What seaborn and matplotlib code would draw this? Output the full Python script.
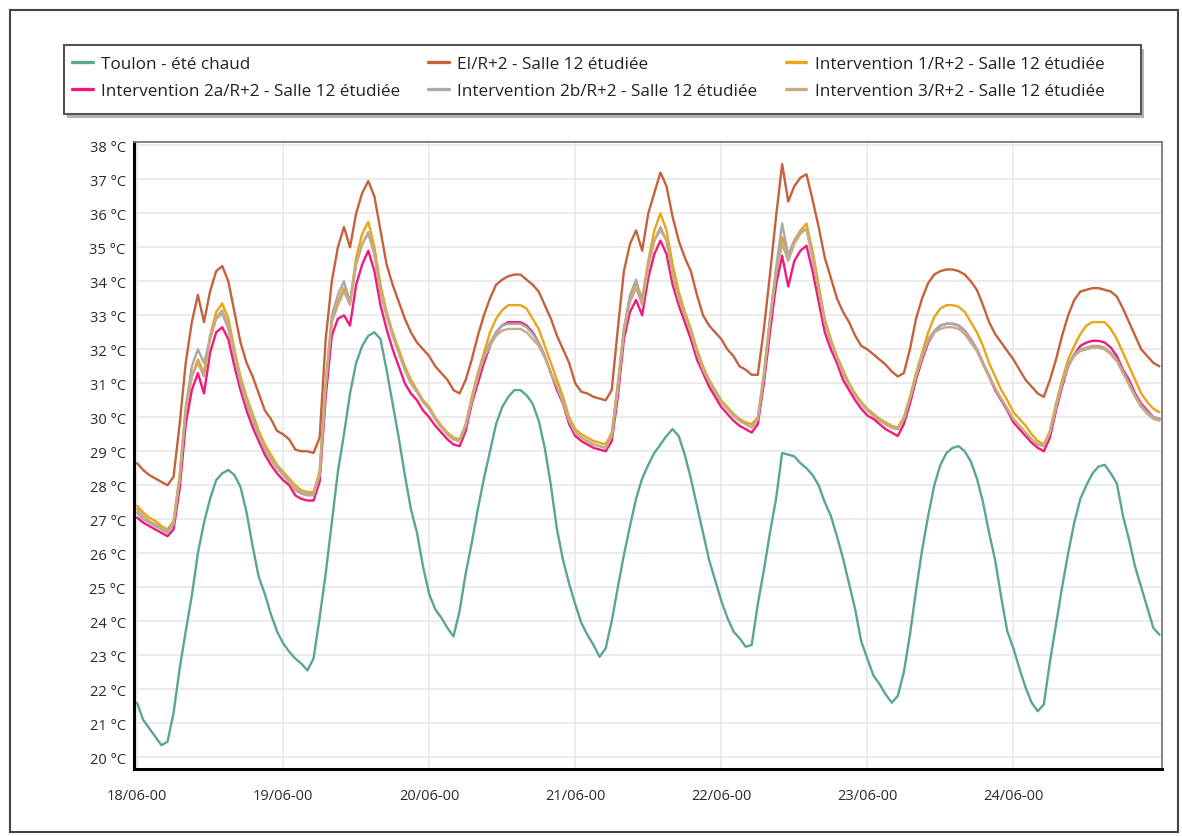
import pandas as pd
import matplotlib
matplotlib.use('Agg')
import matplotlib.pyplot as plt
import matplotlib.dates as mdates
from matplotlib.ticker import FuncFormatter, MultipleLocator, FixedLocator
from matplotlib.patches import Rectangle
import seaborn as sns

# hourly values, 18/06 00h -> 25/06 00h (one row per day)
start = '2000-06-18 00:00'
day_ticks = ['2000-06-18', '2000-06-19', '2000-06-20', '2000-06-21', '2000-06-22', '2000-06-23', '2000-06-24']

toulon = [21.6, 21.1, 20.85, 20.6, 20.35, 20.45, 21.3, 22.6, 23.7, 24.75, 26.0, 26.9, 27.6, 28.15, 28.35, 28.45, 28.3, 27.95, 27.2, 26.2, 25.3, 24.8, 24.2, 23.7,
          23.35, 23.1, 22.9, 22.75, 22.55, 22.9, 24.1, 25.4, 26.9, 28.4, 29.5, 30.7, 31.6, 32.1, 32.4, 32.5, 32.3, 31.4, 30.4, 29.4, 28.3, 27.3, 26.6, 25.6,
          24.8, 24.35, 24.1, 23.8, 23.55, 24.3, 25.4, 26.3, 27.3, 28.2, 29.0, 29.8, 30.3, 30.6, 30.8, 30.8, 30.65, 30.4, 29.9, 29.1, 28.0, 26.7, 25.8, 25.1,
          24.5, 23.95, 23.6, 23.3, 22.95, 23.2, 24.0, 25.0, 25.95, 26.8, 27.6, 28.2, 28.6, 28.95, 29.2, 29.45, 29.65, 29.45, 28.9, 28.2, 27.4, 26.6, 25.8, 25.2,
          24.6, 24.1, 23.7, 23.5, 23.25, 23.3, 24.5, 25.5, 26.6, 27.6, 28.95, 28.9, 28.85, 28.65, 28.5, 28.3, 28.0, 27.5, 27.1, 26.5, 25.85, 25.1, 24.35, 23.4,
          22.9, 22.4, 22.15, 21.85, 21.6, 21.8, 22.5, 23.6, 24.9, 26.1, 27.1, 28.0, 28.6, 28.95, 29.1, 29.15, 29.0, 28.7, 28.2, 27.5, 26.6, 25.8, 24.7, 23.7,
          23.2, 22.6, 22.05, 21.6, 21.35, 21.55, 22.8, 23.9, 25.0, 26.0, 26.9, 27.6, 28.0, 28.35, 28.55, 28.6, 28.35, 28.05, 27.1, 26.4, 25.6, 25.0, 24.4, 23.8,
          23.6]

ei = [28.65, 28.45, 28.3, 28.2, 28.1, 28.0, 28.25, 29.8, 31.6, 32.8, 33.6, 32.8, 33.7, 34.3, 34.45, 34.0, 33.1, 32.2, 31.6, 31.2, 30.7, 30.2, 29.95, 29.6,
      29.5, 29.35, 29.05, 29.0, 29.0, 28.95, 29.4, 32.3, 34.0, 35.0, 35.6, 35.0, 36.0, 36.6, 36.95, 36.5, 35.5, 34.5, 33.9, 33.4, 32.9, 32.5, 32.2, 32.0,
      31.8, 31.5, 31.3, 31.1, 30.8, 30.7, 31.1, 31.7, 32.4, 33.0, 33.5, 33.9, 34.05, 34.15, 34.2, 34.2, 34.05, 33.9, 33.7, 33.3, 32.9, 32.4, 32.0, 31.6,
      31.0, 30.75, 30.7, 30.6, 30.55, 30.5, 30.8, 32.6, 34.3, 35.1, 35.5, 34.9, 36.0, 36.6, 37.2, 36.8, 35.9, 35.2, 34.7, 34.3, 33.6, 33.0, 32.7, 32.5,
      32.3, 32.0, 31.8, 31.5, 31.4, 31.25, 31.25, 32.6, 34.2, 35.9, 37.45, 36.35, 36.8, 37.05, 37.15, 36.4, 35.6, 34.7, 34.1, 33.5, 33.1, 32.8, 32.4, 32.1,
      32.0, 31.85, 31.7, 31.55, 31.35, 31.2, 31.3, 32.0, 32.9, 33.5, 33.95, 34.2, 34.3, 34.35, 34.35, 34.3, 34.2, 34.0, 33.75, 33.3, 32.8, 32.45, 32.2, 31.95,
      31.7, 31.4, 31.1, 30.9, 30.7, 30.6, 31.1, 31.7, 32.4, 33.0, 33.45, 33.7, 33.75, 33.8, 33.8, 33.75, 33.7, 33.55, 33.2, 32.8, 32.4, 32.0, 31.8, 31.6,
      31.5]

interv_1 = [27.4, 27.2, 27.05, 26.95, 26.8, 26.7, 26.95, 28.3, 30.2, 31.2, 31.7, 31.3, 32.4, 33.1, 33.35, 32.9, 32.0, 31.2, 30.6, 30.1, 29.6, 29.2, 28.9, 28.6,
            28.4, 28.2, 28.0, 27.85, 27.8, 27.8, 28.4, 31.0, 32.8, 33.4, 33.8, 33.4, 34.7, 35.4, 35.75, 35.0, 33.9, 33.1, 32.5, 32.0, 31.5, 31.1, 30.8, 30.5,
            30.3, 30.0, 29.75, 29.55, 29.4, 29.35, 29.8, 30.6, 31.3, 31.9, 32.5, 32.9, 33.15, 33.3, 33.3, 33.3, 33.2, 32.9, 32.6, 32.1, 31.6, 31.1, 30.6, 30.0,
            29.65, 29.5, 29.4, 29.3, 29.25, 29.2, 29.55, 31.0, 32.6, 33.5, 33.95, 33.5, 34.6, 35.5, 36.0, 35.5, 34.5, 33.7, 33.1, 32.6, 32.0, 31.5, 31.1, 30.8,
            30.5, 30.3, 30.1, 29.95, 29.85, 29.8, 30.0, 31.3, 32.9, 34.3, 35.3, 34.8, 35.2, 35.5, 35.7, 34.9, 33.9, 32.9, 32.3, 31.8, 31.4, 31.0, 30.7, 30.45,
            30.25, 30.1, 29.95, 29.85, 29.75, 29.7, 30.0, 30.6, 31.3, 31.9, 32.5, 32.95, 33.2, 33.3, 33.3, 33.25, 33.1, 32.8, 32.5, 32.1, 31.6, 31.2, 30.8, 30.5,
            30.15, 29.95, 29.75, 29.5, 29.3, 29.2, 29.6, 30.4, 31.1, 31.7, 32.1, 32.45, 32.7, 32.8, 32.8, 32.8, 32.6, 32.3, 31.9, 31.5, 31.1, 30.7, 30.45, 30.25,
            30.15]

interv_2a = [27.05, 26.9, 26.8, 26.7, 26.6, 26.5, 26.7, 27.9, 29.8, 30.8, 31.3, 30.7, 31.9, 32.5, 32.65, 32.3, 31.5, 30.8, 30.2, 29.7, 29.3, 28.9, 28.6, 28.35,
             28.15, 28.0, 27.7, 27.6, 27.55, 27.55, 28.1, 30.6, 32.4, 32.9, 33.0, 32.7, 33.9, 34.5, 34.9, 34.3, 33.3, 32.6, 32.0, 31.5, 31.0, 30.7, 30.5, 30.2,
             30.0, 29.75, 29.55, 29.35, 29.2, 29.15, 29.6, 30.4, 31.0, 31.6, 32.1, 32.5, 32.7, 32.8, 32.8, 32.8, 32.7, 32.5, 32.2, 31.8, 31.3, 30.8, 30.4, 29.8,
             29.45, 29.3, 29.2, 29.1, 29.05, 29.0, 29.3, 30.6, 32.3, 33.1, 33.45, 33.0, 34.1, 34.8, 35.2, 34.8, 33.9, 33.3, 32.8, 32.3, 31.7, 31.3, 30.9, 30.6,
             30.3, 30.1, 29.9, 29.75, 29.65, 29.55, 29.8, 31.0, 32.5, 33.9, 34.75, 33.85, 34.6, 34.9, 35.05, 34.3, 33.4, 32.5, 32.0, 31.6, 31.1, 30.8, 30.5, 30.25,
             30.05, 29.95, 29.8, 29.65, 29.55, 29.45, 29.8, 30.4, 31.1, 31.7, 32.2, 32.5, 32.7, 32.75, 32.75, 32.7, 32.55, 32.3, 32.0, 31.6, 31.2, 30.8, 30.5, 30.2,
             29.85, 29.65, 29.45, 29.25, 29.1, 29.0, 29.4, 30.2, 30.9, 31.5, 31.85, 32.1, 32.2, 32.25, 32.25, 32.2, 32.05, 31.8, 31.4, 31.1, 30.7, 30.4, 30.2, 30.0,
             29.95]

interv_2b = [27.2, 27.0, 26.9, 26.8, 26.7, 26.6, 26.85, 28.2, 30.3, 31.5, 32.0, 31.6, 32.3, 32.9, 33.05, 32.6, 31.8, 31.0, 30.4, 29.9, 29.45, 29.05, 28.75, 28.5,
             28.3, 28.1, 27.85, 27.75, 27.7, 27.7, 28.3, 31.0, 33.0, 33.6, 34.0, 33.4, 34.5, 35.1, 35.45, 34.8, 33.7, 33.0, 32.4, 31.9, 31.4, 31.0, 30.75, 30.45,
             30.25, 29.95, 29.7, 29.5, 29.35, 29.3, 29.75, 30.5, 31.2, 31.8, 32.2, 32.5, 32.7, 32.75, 32.75, 32.75, 32.65, 32.45, 32.2, 31.8, 31.3, 30.9, 30.45, 29.9,
             29.55, 29.4, 29.3, 29.2, 29.15, 29.1, 29.45, 30.9, 32.6, 33.6, 34.05, 33.4, 34.5, 35.2, 35.6, 35.2, 34.2, 33.5, 33.0, 32.5, 31.9, 31.4, 31.05, 30.75,
             30.45, 30.25, 30.05, 29.9, 29.8, 29.7, 29.95, 31.2, 32.9, 34.4, 35.7, 34.75, 35.2, 35.45, 35.55, 34.7, 33.75, 32.8, 32.2, 31.75, 31.3, 30.95, 30.65, 30.4,
             30.2, 30.05, 29.9, 29.8, 29.7, 29.65, 29.95, 30.55, 31.2, 31.8, 32.3, 32.55, 32.7, 32.75, 32.75, 32.7, 32.55, 32.3, 32.0, 31.6, 31.25, 30.85, 30.55, 30.25,
             29.95, 29.75, 29.55, 29.35, 29.2, 29.15, 29.55, 30.3, 31.0, 31.55, 31.85, 32.0, 32.05, 32.1, 32.1, 32.05, 31.9, 31.7, 31.35, 31.0, 30.65, 30.35, 30.15, 30.0,
             29.95]

interv_3 = [27.3, 27.1, 26.95, 26.85, 26.75, 26.65, 26.9, 28.2, 30.2, 31.2, 31.6, 31.2, 32.3, 32.95, 33.15, 32.7, 31.9, 31.1, 30.5, 30.0, 29.5, 29.1, 28.8, 28.55,
            28.35, 28.15, 27.9, 27.8, 27.75, 27.75, 28.3, 30.9, 32.8, 33.3, 33.7, 33.3, 34.5, 35.1, 35.4, 34.8, 33.7, 33.0, 32.4, 31.9, 31.4, 31.0, 30.75, 30.45,
            30.25, 29.95, 29.7, 29.5, 29.35, 29.3, 29.75, 30.5, 31.2, 31.75, 32.1, 32.4, 32.55, 32.6, 32.6, 32.6, 32.5, 32.3, 32.1, 31.75, 31.3, 30.9, 30.45, 29.9,
            29.55, 29.4, 29.3, 29.2, 29.15, 29.1, 29.45, 30.8, 32.5, 33.4, 33.8, 33.3, 34.4, 35.2, 35.5, 35.2, 34.2, 33.5, 33.0, 32.5, 31.9, 31.4, 31.05, 30.75,
            30.45, 30.25, 30.05, 29.9, 29.8, 29.7, 29.95, 31.2, 32.8, 34.2, 35.1, 34.6, 35.1, 35.4, 35.55, 34.7, 33.75, 32.8, 32.2, 31.75, 31.3, 30.95, 30.65, 30.4,
            30.2, 30.05, 29.9, 29.8, 29.7, 29.65, 29.95, 30.55, 31.2, 31.8, 32.25, 32.5, 32.6, 32.65, 32.65, 32.6, 32.45, 32.2, 31.95, 31.55, 31.2, 30.85, 30.55, 30.25,
            29.95, 29.75, 29.55, 29.35, 29.2, 29.15, 29.55, 30.3, 31.0, 31.5, 31.8, 31.95, 32.0, 32.05, 32.05, 32.0, 31.85, 31.65, 31.3, 30.95, 30.6, 30.3, 30.1, 29.95,
            29.9]

names = ['Toulon - été chaud',
         'EI/R+2 - Salle 12 étudiée',
         'Intervention 1/R+2 - Salle 12 étudiée',
         'Intervention 2a/R+2 - Salle 12 étudiée',
         'Intervention 2b/R+2 - Salle 12 étudiée',
         'Intervention 3/R+2 - Salle 12 étudiée']
colors = ['#5aa596', '#c4623c', '#e9a515', '#f2197a', '#a9a9a9', '#c9aa86']

dates = pd.date_range(start, periods=len(toulon), freq='h')
wide = pd.DataFrame({'date': dates})
for name, values in zip(names, [toulon, ei, interv_1, interv_2a, interv_2b, interv_3]):
    wide[name] = values
df = wide.melt(id_vars='date', var_name='serie', value_name='temp')

sns.set_style('white')
plt.rcParams['font.family'] = ['Open Sans', 'DejaVu Sans']

W, H = 1182, 837
fig = plt.figure(figsize=(W / 100, H / 100), dpi=100)
ax = fig.add_axes([134 / W, 1 - 770 / H, (1162 - 134) / W, (770 - 143) / H])

sns.lineplot(data=df, x='date', y='temp', hue='serie', hue_order=names,
             palette=dict(zip(names, colors)), linewidth=1.7, ax=ax)

# legend box drawn by hand (frame + soft shadow), entries placed inside it
fig.add_artist(Rectangle((67 / W, 1 - 119 / H), (1141 - 64) / W, (115 - 46) / H,
                         transform=fig.transFigure, facecolor='#b5b5b5', edgecolor='none'))
fig.add_artist(Rectangle((64 / W, 1 - 115 / H), (1141 - 64) / W, (115 - 46) / H,
                         transform=fig.transFigure, facecolor='white', edgecolor='#555555', linewidth=1.5))

handles, labels = ax.get_legend_handles_labels()
ax.get_legend().remove()
order = [0, 3, 1, 4, 2, 5]
leg = fig.legend([handles[i] for i in order], [labels[i] for i in order],
                 loc='upper left', ncol=3, bbox_to_anchor=(72 / W, 1 - 57 / H),
                 borderaxespad=0, borderpad=0, fontsize=12.3, handlelength=1.2,
                 handletextpad=0.5, labelspacing=0.65, columnspacing=1.65, frameon=False)
for text in leg.get_texts():
    text.set_color('#222222')
for line in leg.get_lines():
    line.set_linewidth(2.4)

ax.set_xlabel('')
ax.set_ylabel('')
ax.set_ylim(19.65, 38.1)
ax.set_xlim(dates[0] - pd.Timedelta(minutes=30), dates[-1] + pd.Timedelta(minutes=25))

ax.xaxis.set_major_locator(FixedLocator(mdates.date2num(pd.to_datetime(day_ticks))))
ax.xaxis.set_major_formatter(mdates.DateFormatter('%d/%m-%H'))
ax.xaxis.set_minor_locator(mdates.HourLocator(byhour=[6, 12, 18]))
ax.yaxis.set_major_locator(MultipleLocator(1))
ax.yaxis.set_minor_locator(MultipleLocator(0.2))
ax.yaxis.set_major_formatter(FuncFormatter(lambda v, p: '{:.0f} °C'.format(v)))

ax.grid(True, which='major', color='#e8e8e8', linewidth=1.2)
ax.set_axisbelow(True)
for side in ['left', 'bottom']:
    ax.spines[side].set_color('black')
    ax.spines[side].set_linewidth(2.2)
for side in ['top', 'right']:
    ax.spines[side].set_color('#7a7a7a')
    ax.spines[side].set_linewidth(1.3)

ax.tick_params(axis='both', which='both', direction='out', color='#777777', labelcolor='#2a2a2a')
ax.tick_params(axis='x', which='major', length=5, width=1, pad=9, labelsize=10.5)
ax.tick_params(axis='x', which='minor', length=4, width=1)
ax.tick_params(axis='y', which='major', length=4, width=1, pad=2, labelsize=10.5)
ax.tick_params(axis='y', which='minor', length=2.5, width=0.8)

fig.add_artist(Rectangle((10 / W, 1 - 833 / H), (1178 - 10) / W, (833 - 11) / H,
                         transform=fig.transFigure, fill=False, edgecolor='#444444', linewidth=1.5))

fig.savefig('out.png', dpi=100, facecolor='white')
